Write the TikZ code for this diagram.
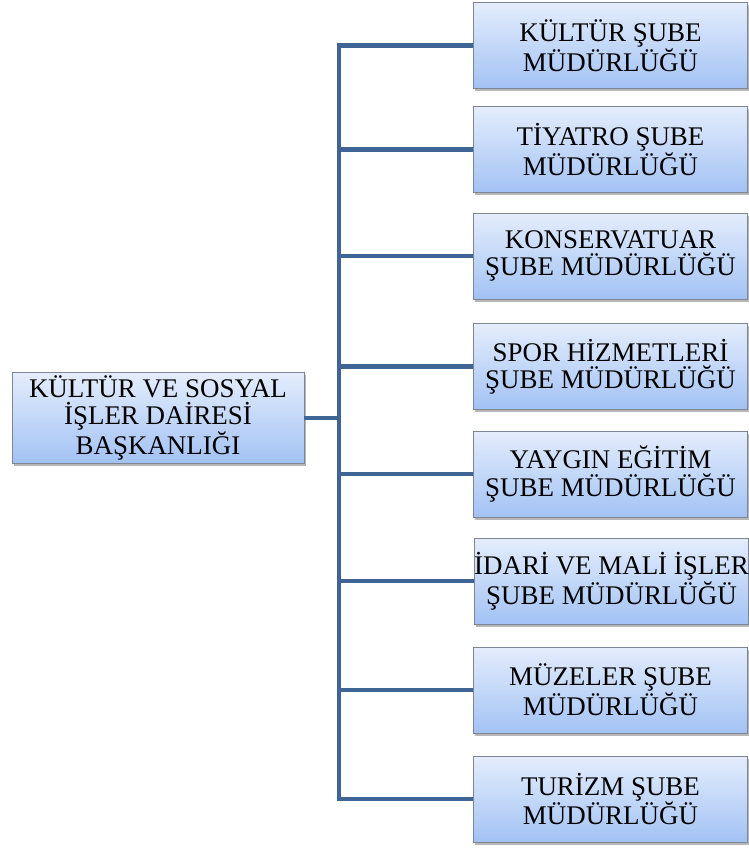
\documentclass[tikz,border=0pt]{standalone}
\usepackage{fontspec}
\setmainfont{Liberation Serif}
\usetikzlibrary{shadows}

\definecolor{linkblue}{RGB}{63,100,150}
\definecolor{boxtop}{RGB}{228,237,252}
\definecolor{boxbot}{RGB}{162,194,244}
\definecolor{boxedge}{RGB}{128,134,144}

\begin{document}
\begin{tikzpicture}[
    x=0.75pt, y=-0.75pt,
    unit/.style={draw=boxedge, line width=0.6pt, top color=boxtop, bottom color=boxbot,
                 align=center, minimum width=206pt, minimum height=64.5pt, inner sep=0pt,
                 font=\fontsize{20.2}{20.4}\selectfont,
                 drop shadow={shadow xshift=1.5pt, shadow yshift=-2pt, opacity=0.4, fill=black!70}},
    link/.style={draw=linkblue, line width=3.6pt}
]
\useasboundingbox (0,0) rectangle (749,851);

\node[unit, minimum width=219pt, minimum height=68pt] (head) at (158,418)
    {KÜLTÜR VE SOSYAL\\İŞLER DAİRESİ\\BAŞKANLIĞI};

\node[unit] (kultur)   at (610.5,45.5) {KÜLTÜR ŞUBE\\MÜDÜRLÜĞÜ};
\node[unit] (tiyatro)  at (610.5,149.5) {TİYATRO ŞUBE\\MÜDÜRLÜĞÜ};
\node[unit] (konser)   at (610.5,256) {KONSERVATUAR\\ŞUBE MÜDÜRLÜĞÜ};
\node[unit] (spor)     at (610.5,366.5) {SPOR HİZMETLERİ\\ŞUBE MÜDÜRLÜĞÜ};
\node[unit] (yaygin)   at (610.5,474) {YAYGIN EĞİTİM\\ŞUBE MÜDÜRLÜĞÜ};
\node[unit] (idari)    at (611.5,581) {İDARİ VE MALİ İŞLER\\ŞUBE MÜDÜRLÜĞÜ};
\node[unit] (muzeler)  at (610.5,690) {MÜZELER ŞUBE\\MÜDÜRLÜĞÜ};
\node[unit] (turizm)   at (610.5,799) {TURİZM ŞUBE\\MÜDÜRLÜĞÜ};

% Connectors
\coordinate (trunk) at (339,418);
\draw[link] (head.east) -- (trunk);
\draw[link] (kultur.west) -| (trunk |- turizm.west) -- (turizm.west);
\foreach \unit in {tiyatro, konser, spor, yaygin, idari, muzeler}
    \draw[link] (trunk |- \unit.west) -- (\unit.west);

\end{tikzpicture}
\end{document}
